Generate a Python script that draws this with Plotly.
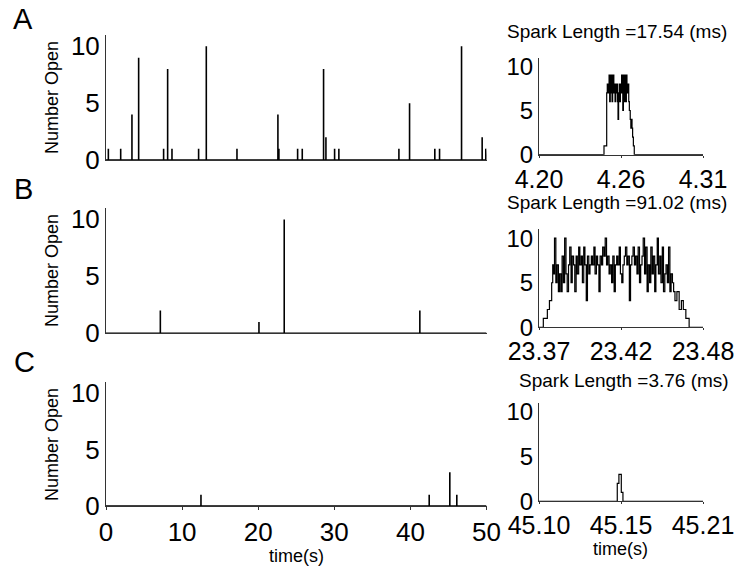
import plotly.graph_objects as go

# ---------------- data ----------------
# Left panels: channel opening events over 50 s (time in s, number open)
A_event_t = [0.31, 1.93, 3.41, 4.29, 7.57, 8.10, 8.67, 12.17, 13.18, 17.21,
             22.59, 22.72, 25.18, 25.79, 28.59, 28.90, 30.04, 30.60, 38.49, 39.89,
             43.21, 43.83, 46.72, 49.43, 49.91]
A_event_n = [1, 1, 4, 9, 1, 8, 1, 1, 10, 1,
             4, 1, 1, 1, 8, 2, 1, 1, 1, 5,
             1, 1, 10, 2, 1]
B_event_t = [7.14, 20.10, 23.42, 41.24]
B_event_n = [2, 1, 10, 2]
C_event_t = [12.48, 42.47, 45.18, 46.10]
C_event_n = [1, 1, 3, 1]
left_x_ticks = [0, 10, 20, 30, 40, 50]
left_y_ticks = [0, 5, 10]

# Right panels: zoom on one spark (start time in s, offsets in ms, number open)
A_start = 4.20
A_ms = [0.0, 43.6, 45.4,
        45.8, 46.2, 46.6, 47.0, 47.4, 47.8, 48.2, 48.6, 49.0, 49.4,
        49.8, 50.2, 50.6, 51.0, 51.4, 51.8, 52.2, 52.6, 53.0, 53.4,
        53.8, 54.2, 54.6, 55.0, 55.4, 55.8, 56.2, 56.6, 57.0, 57.4,
        57.8, 58.2, 58.6, 59.0, 59.4, 59.8, 60.2,
        60.6, 61.2, 61.6, 62.0, 62.4, 62.8, 63.3, 63.9, 110.0]
A_n = [0, 1, 7,
       8, 7, 8, 9, 6, 9, 7, 9, 6, 8,
       9, 7, 8, 6, 8, 7, 8, 6, 4, 7,
       8, 6, 7, 8, 9, 7, 5, 9, 6, 9,
       8, 6, 9, 8, 7, 8, 6,
       5, 4, 3, 4, 3, 2, 1, 0, 0]

B_start = 23.37
B_ms = [0.0, 2.9, 5.6, 7.0, 8.5, 9.2,
        9.6, 10.4, 11.3, 12.1, 13.0, 13.8, 14.7, 15.5, 16.4, 17.2,
        18.1, 18.9, 19.8, 20.6, 21.5, 22.3, 23.2, 24.0, 24.9, 25.7,
        26.6, 27.4, 28.3, 29.1, 30.0, 30.8, 31.7, 32.5, 33.4, 34.2,
        35.1, 35.9, 36.8, 37.6, 38.5, 39.3, 40.2, 41.0, 41.9, 42.7,
        43.6, 44.4, 45.3, 46.1, 47.0, 47.8, 48.7, 49.5, 50.4, 51.2,
        52.1, 52.9, 53.8, 54.6, 55.5, 56.3, 57.2, 58.0, 58.9, 59.7,
        60.6, 61.4, 62.3, 63.1, 64.0, 64.8, 65.7, 66.5, 67.4, 68.2,
        69.1, 69.9, 70.8, 71.6, 72.5, 73.3, 74.2, 75.0, 75.9, 76.7,
        77.6, 78.4, 79.3, 80.1, 81.0, 81.8, 82.7, 83.5, 84.4, 85.2,
        86.1, 86.9, 87.8, 88.6, 89.5, 90.3,
        91.2, 92.5, 94.0, 95.5, 96.8, 98.5, 100.7, 110.0]
B_n = [0, 1, 2, 3, 5, 7,
       6, 10, 5, 7, 4, 6, 4, 8, 5, 10,
       6, 4, 7, 9, 5, 8, 7, 4, 8, 6,
       9, 7, 8, 5, 9, 7, 3, 8, 6, 7,
       8, 7, 9, 6, 8, 7, 4, 8, 7, 9,
       8, 10, 7, 8, 6, 7, 5, 8, 4, 7,
       8, 7, 9, 6, 5, 7, 8, 9, 7, 8,
       3, 7, 8, 9, 7, 8, 6, 9, 5, 7,
       8, 10, 6, 9, 4, 7, 5, 9, 6, 8,
       4, 7, 10, 6, 8, 5, 9, 4, 6, 7,
       5, 9, 4, 6, 5, 4,
       3, 4, 2, 3, 2, 1, 0, 0]

C_start = 45.10
C_ms = [0.0, 52.5, 53.6, 55.2, 56.3, 110.0]
C_n = [0, 2, 3, 1, 0, 0]

spark_titles = ["Spark Length =17.54 (ms)", "Spark Length =91.02 (ms)",
                "Spark Length =3.76 (ms)"]
A_ticktext = ["4.20", "4.26", "4.31"]
B_ticktext = ["23.37", "23.42", "23.48"]
C_ticktext = ["45.10", "45.15", "45.21"]
panel_letters = ["A", "B", "C"]
window_ms = 110.0

# ---------------- figure ----------------
W, H = 736, 571
FONT = "Liberation Sans, Arial, sans-serif"

def px(x):
    return x / W

def py(y):
    return 1 - y / H

fig = go.Figure()

def spikes(ts, ns, x0=0, x1=50):
    xs, ys = [x0], [0]
    for t, n in sorted(zip(ts, ns)):
        xs += [t, t, t]
        ys += [0, n, 0]
    xs.append(x1)
    ys.append(0)
    return xs, ys

left_sets = [(A_event_t, A_event_n), (B_event_t, B_event_n), (C_event_t, C_event_n)]
right_sets = [(A_start, A_ms, A_n, A_ticktext), (B_start, B_ms, B_n, B_ticktext),
              (C_start, C_ms, C_n, C_ticktext)]

# pixel geometry (top, bottom) for each row
left_rows = [(35, 160), (208, 333.3), (382, 506)]
right_rows = [(57.5, 154.7), (229.3, 327.3), (402.5, 501.3)]
left_x = (106, 486.5)
right_x = (539, 703)

axis_line = dict(showline=True, linecolor="#333", linewidth=1, showgrid=False,
                 zeroline=False, mirror=False)

for i in range(3):
    # left
    ax_i = 2 * i + 1
    xs, ys = spikes(*left_sets[i])
    fig.add_trace(go.Scatter(x=xs, y=ys, mode="lines",
                             line=dict(color="black", width=1.6),
                             xaxis=f"x{ax_i}", yaxis=f"y{ax_i}",
                             showlegend=False, hoverinfo="skip"))
    top, bot = left_rows[i]
    xa = dict(axis_line, domain=[px(left_x[0]), px(left_x[1])], range=[0, 50],
              anchor=f"y{ax_i}", tickvals=left_x_ticks,
              tickfont=dict(family=FONT, size=26, color="black"))
    if i < 2:
        xa.update(showticklabels=False, ticks="")
    else:
        xa.update(ticks="outside", ticklen=3, tickcolor="#333")
    ya = dict(axis_line, domain=[py(bot), py(top)], range=[0, 11],
              anchor=f"x{ax_i}", tickvals=left_y_ticks, ticks="",
              tickfont=dict(family=FONT, size=26, color="black"))
    fig.layout[f"xaxis{ax_i}"] = xa
    fig.layout[f"yaxis{ax_i}"] = ya

    # right
    ax_j = 2 * i + 2
    start, ms, ns, ttext = right_sets[i]
    rx = [start + m / 1000.0 for m in ms]
    fig.add_trace(go.Scatter(x=rx, y=ns, mode="lines",
                             line=dict(color="black", width=1.2, shape="hv"),
                             xaxis=f"x{ax_j}", yaxis=f"y{ax_j}",
                             showlegend=False, hoverinfo="skip"))
    top, bot = right_rows[i]
    end = start + window_ms / 1000.0
    fig.layout[f"xaxis{ax_j}"] = dict(
        axis_line, domain=[px(right_x[0]), px(right_x[1])], range=[start, end],
        anchor=f"y{ax_j}", tickvals=[start, (start + end) / 2, end], ticktext=ttext,
        ticks="outside", ticklen=2, tickcolor="#333",
        tickfont=dict(family=FONT, size=25, color="black"))
    fig.layout[f"yaxis{ax_j}"] = dict(
        axis_line, domain=[py(bot), py(top)], range=[0, 11],
        anchor=f"x{ax_j}", tickvals=left_y_ticks, ticks="",
        tickfont=dict(family=FONT, size=24, color="black"))

annotations = []
letter_pos = [(23, 19), (23, 189), (24, 362)]
for (x, y), t in zip(letter_pos, panel_letters):
    annotations.append(dict(x=px(x), y=py(y), text=t, showarrow=False,
                            xref="paper", yref="paper", xanchor="center", yanchor="middle",
                            font=dict(family=FONT, size=29, color="black")))
title_pos = [(617, 31), (617, 202), (624, 380)]
for (x, y), t in zip(title_pos, spark_titles):
    annotations.append(dict(x=px(x), y=py(y), text=t, showarrow=False,
                            xref="paper", yref="paper", xanchor="center", yanchor="middle",
                            font=dict(family=FONT, size=19, color="black")))
for y in [97, 270, 444]:
    annotations.append(dict(x=px(52), y=py(y), text="Number Open", showarrow=False,
                            textangle=-90, xref="paper", yref="paper",
                            xanchor="center", yanchor="middle",
                            font=dict(family=FONT, size=18, color="black")))
for (x, y) in [(296, 556), (620, 549)]:
    annotations.append(dict(x=px(x), y=py(y), text="time(s)", showarrow=False,
                            xref="paper", yref="paper", xanchor="center", yanchor="middle",
                            font=dict(family=FONT, size=18, color="black")))

fig.update_layout(width=W, height=H, margin=dict(l=0, r=0, t=0, b=0),
                  paper_bgcolor="white", plot_bgcolor="white",
                  template="none", annotations=annotations,
                  font=dict(family=FONT, color="black"))

fig.write_html("out.html")
